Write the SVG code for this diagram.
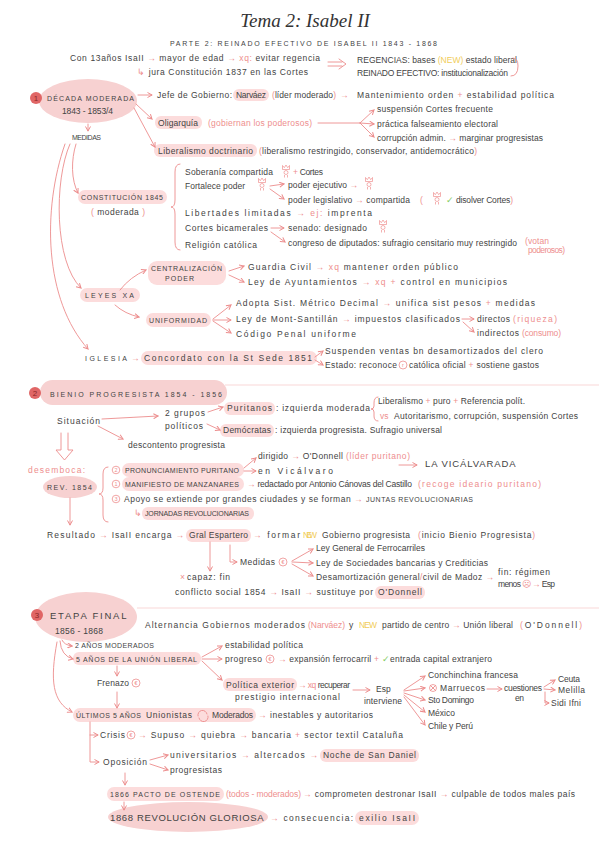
<svg xmlns="http://www.w3.org/2000/svg" width="599" height="848" viewBox="0 0 599 848">
<style>
.t{font-family:"Liberation Sans",Arial,sans-serif;font-size:8.5px;fill:#434343}
.k{font-size:7px;letter-spacing:1px}
.kb{font-size:9.5px;letter-spacing:1.5px}
.p{fill:#ee8e8e}
.y{fill:#f1cd5a}
.g{fill:#86cc62}
.hl{fill:#fcdcdc}
.bub{fill:#f7d1d1}
.num{fill:#e06666}
.nt{font-family:"Liberation Sans",Arial,sans-serif;font-size:8px;fill:#8c2626;text-anchor:middle}
.ci{fill:none;stroke:#ee8e8e;stroke-width:0.8}
.cit{font-family:"Liberation Sans",Arial,sans-serif;font-size:5.5px;fill:#ee8e8e;text-anchor:middle}
.ln{fill:none;stroke:#ec8c8c;stroke-width:0.9;stroke-linecap:round;stroke-linejoin:round}
.ar{marker-end:url(#ah)}
.sep{stroke:#fbe4e4;stroke-width:1.5}
</style>
<defs>
<marker id="ah" viewBox="0 0 6 6" refX="5" refY="3" markerWidth="6" markerHeight="6" markerUnits="userSpaceOnUse" orient="auto"><path d="M0.5 0.5 L5 3 L0.5 5.5" fill="none" stroke="#ec8c8c" stroke-width="1"/></marker>
<g id="crown" fill="none" stroke="#ef8f8f" stroke-width="0.7"><path d="M-3.5 -2.5 L-3.5 -6.5 L-1.7 -4.3 L0 -7 L1.7 -4.3 L3.5 -6.5 L3.5 -2.5 Z"/><circle cx="0" cy="0.5" r="2"/><path d="M-1.5 3 L-1.5 5.5 M1.5 3 L1.5 5.5"/></g>
</defs>
<rect width="599" height="848" fill="#ffffff"/>

<g id="title"><text x="305" y="27" font-family="Liberation Serif, serif" font-style="italic" font-size="19" text-anchor="middle" fill="#333">Tema 2: Isabel II</text></g>
<g id="subtitle"><text class="t k" x="170" y="46" textLength="268" font-size="7.5">PARTE 2: REINADO EFECTIVO DE ISABEL II 1843 - 1868</text></g>

<g id="intro">
<text class="t" x="70" y="61" textLength="250">Con 13años IsaII <tspan class="p">→</tspan> mayor de edad <tspan class="p">→ xq:</tspan> evitar regencia</text>
<text class="t" x="137" y="75" textLength="171"><tspan class="p">↳</tspan> jura Constitución 1837 en las Cortes</text>
</g>
<g id="regencias">
<text class="t" x="357" y="63" textLength="160">REGENCIAS: bases <tspan class="y">(NEW)</tspan> estado liberal</text>
<text class="t" x="357" y="76" textLength="151">REINADO EFECTIVO: institucionalización</text>
</g>

<!-- SECTION 1 -->
<g id="decada-moderada">
<ellipse class="bub" cx="88" cy="101" rx="49" ry="22"/>
<circle class="num" cx="36" cy="98" r="6"/><text class="nt" x="36" y="101">1</text>
<text class="t k" x="47" y="101" textLength="88">DÉCADA MODERADA</text>
<text class="t" x="62" y="114" textLength="51">1843 - 1853/4</text>
</g>
<g id="jefe">
<text class="t" x="157" y="98" textLength="75">Jefe de Gobierno:</text>
<rect class="hl" x="233" y="89" width="36" height="12" rx="6"/>
<text class="t" x="236" y="98" textLength="30">Narváez</text>
<text class="t" x="272" y="98" textLength="64"><tspan class="p">(</tspan>líder moderado<tspan class="p">)</tspan></text>
<text class="t p" x="340" y="98">→</text>
<text class="t" x="357" y="98" textLength="197">Mantenimiento orden <tspan class="p">+</tspan> estabilidad política</text>
</g>
<g id="oligarquia">
<rect class="hl" x="155" y="116" width="47" height="13" rx="6"/>
<text class="t" x="158" y="126" textLength="40">Oligarquía</text>
<text class="t p" x="208" y="126" textLength="104">(gobiernan los poderosos)</text>
<text class="t" x="377" y="112" textLength="116">suspensión Cortes frecuente</text>
<text class="t" x="377" y="127" textLength="121">práctica falseamiento electoral</text>
<text class="t" x="377" y="141" textLength="166">corrupción admin. <tspan class="p">→</tspan> marginar progresistas</text>
</g>
<g id="liberalismo">
<rect class="hl" x="154" y="144" width="103" height="13" rx="6"/>
<text class="t" x="158" y="154" textLength="95">Liberalismo doctrinario</text>
<text class="t" x="259" y="154" textLength="218"><tspan class="p">(</tspan>liberalismo restringido, conservador, antidemocrático<tspan class="p">)</tspan></text>
</g>
<g id="medidas"><text class="t k" x="72" y="140" textLength="30" font-size="6">MEDIDAS</text></g>

<g id="constitucion">
<rect class="hl" x="78" y="190" width="89" height="14" rx="7"/>
<text class="t k" x="81" y="200" textLength="83">CONSTITUCIÓN 1845</text>
<text class="t" x="91" y="215" textLength="54"><tspan class="p">(</tspan> moderada <tspan class="p">)</tspan></text>
<path class="ln" d="M180 164 Q175 164 175 172 L175 200 Q175 207 171 207 Q175 207 175 214 L175 242 Q175 250 180 250"/>
<text class="t" x="185" y="175" textLength="88">Soberanía compartida</text>
<use href="#crown" x="286" y="172"/>
<text class="t" x="293" y="175" textLength="30"><tspan class="p">+</tspan> Cortes</text>
<text class="t" x="185" y="189" textLength="60">Fortalece poder</text>
<use href="#crown" x="262" y="185"/>
<text class="t" x="288" y="188" textLength="70">poder ejecutivo <tspan class="p">→</tspan></text>
<use href="#crown" x="369" y="184"/>
<text class="t" x="288" y="203" textLength="122">poder legislativo <tspan class="p">→</tspan> compartida</text>
<text class="t p" x="420" y="203">(</text>
<use href="#crown" x="437" y="199"/>
<text class="t g" x="446" y="203">✓</text>
<text class="t" x="456" y="203" textLength="57">disolver Cortes<tspan class="p">)</tspan></text>
<text class="t" x="185" y="216" textLength="187">Libertades limitadas <tspan class="p">→ ej:</tspan> imprenta</text>
<text class="t" x="185" y="231" textLength="83">Cortes bicamerales</text>
<text class="t" x="288" y="231" textLength="79">senado: designado</text>
<use href="#crown" x="383" y="227"/>
<text class="t" x="288" y="246" textLength="229" font-size="7.8">congreso de diputados: sufragio censitario muy restringido</text>
<text class="t p" x="525" y="244" font-size="7" textLength="24">(votan</text>
<text class="t p" x="528" y="253" font-size="7" textLength="37">poderosos)</text>
<text class="t" x="185" y="248" textLength="72">Religión católica</text>
</g>

<g id="centralizacion">
<rect class="hl" x="148" y="261" width="78" height="24" rx="9"/>
<text class="t k" x="151" y="271" textLength="72">CENTRALIZACIÓN</text>
<text class="t k" x="165" y="281" textLength="30">PODER</text>
<text class="t" x="248" y="270" textLength="210">Guardia Civil <tspan class="p">→ xq</tspan> mantener orden público</text>
<text class="t" x="248" y="285" textLength="259">Ley de Ayuntamientos <tspan class="p">→ xq +</tspan> control en municipios</text>
</g>
<g id="leyes-xa">
<rect class="hl" x="80" y="288" width="60" height="14" rx="7"/>
<text class="t k" x="85" y="298" textLength="50">LEYES XA</text>
</g>
<g id="uniformidad">
<rect class="hl" x="146" y="313" width="65" height="14" rx="7"/>
<text class="t k" x="149" y="323" textLength="59">UNIFORMIDAD</text>
<text class="t" x="236" y="306" textLength="299">Adopta Sist. Métrico Decimal <tspan class="p">→</tspan> unifica sist pesos <tspan class="p">+</tspan> medidas</text>
<text class="t" x="236" y="322" textLength="224">Ley de Mont-Santillán <tspan class="p">→</tspan> impuestos clasificados</text>
<text class="t" x="477" y="322" textLength="33">directos</text>
<text class="t p" x="513" y="322" textLength="44">(riqueza)</text>
<text class="t" x="477" y="336" textLength="42">indirectos</text>
<text class="t p" x="522" y="336" textLength="39">(consumo)</text>
<text class="t" x="236" y="337" textLength="120">Código Penal uniforme</text>
</g>
<g id="iglesia">
<text class="t k" x="85" y="361" textLength="43">IGLESIA</text>
<text class="t p" x="131" y="361">→</text>
<rect class="hl" x="141" y="351" width="176" height="14" rx="7"/>
<text class="t" x="144" y="361" textLength="168">Concordato con la St Sede 1851</text>
<text class="t" x="325" y="354" textLength="218">Suspenden ventas bn desamortizados del clero</text>
<text class="t" x="325" y="368" textLength="72">Estado: reconoce</text>
<circle class="ci" cx="403" cy="365" r="4"/><text class="cit" x="403" y="367">r</text>
<text class="t" x="409" y="368" textLength="130">católica oficial <tspan class="p">+</tspan> sostiene gastos</text>
</g>

<!-- SECTION 2 -->
<g id="bienio">
<rect class="bub" x="40" y="380" width="187" height="25" rx="12.5"/>
<circle class="num" cx="35" cy="393" r="6"/><text class="nt" x="35" y="396">2</text>
<text class="t k" x="50" y="397" textLength="173" font-size="8">BIENIO PROGRESISTA 1854 - 1856</text>
</g>
<g id="situacion">
<text class="t" x="57" y="424" textLength="43">Situación</text>
<text class="t" x="165" y="416" textLength="40">2 grupos</text>
<text class="t" x="165" y="429" textLength="38">políticos</text>
<text class="t" x="128" y="448" textLength="97">descontento progresista</text>
</g>
<g id="puritanos">
<rect class="hl" x="224" y="402" width="51" height="13" rx="6"/>
<text class="t" x="227" y="411" textLength="45">Puritanos</text>
<text class="t" x="276" y="411" textLength="94">: izquierda moderada</text>
<path class="ln" d="M378 397 Q374 397 374 403 L374 406 Q374 409 371 409 Q374 409 374 412 L374 416 Q374 421 378 421"/>
<text class="t" x="378" y="404" textLength="147">Liberalismo <tspan class="p">+</tspan> puro <tspan class="p">+</tspan> Referencia polít.</text>
<text class="t p" x="380" y="419">vs</text>
<text class="t" x="394" y="419" textLength="184">Autoritarismo, corrupción, suspensión Cortes</text>
</g>
<g id="democratas">
<rect class="hl" x="220" y="424" width="54" height="13" rx="6"/>
<text class="t" x="223" y="433" textLength="48">Demócratas</text>
<text class="t" x="275" y="433" textLength="167">: izquierda progresista. Sufragio universal</text>
</g>
<g id="rev-1854">
<text class="t p" x="28" y="473" textLength="57">desemboca:</text>
<ellipse class="bub" cx="70" cy="487" rx="27" ry="11"/>
<text class="t k" x="47" y="490" textLength="46">REV. 1854</text>
<path class="ln" d="M108 467 Q103 467 103 474 L103 488 Q103 494 99 494 Q103 494 103 500 L103 515 Q103 522 108 522"/>
</g>
<g id="pronunciamiento">
<circle class="ci" cx="116" cy="470" r="3.8"/><text class="cit" x="116" y="472">2</text>
<rect class="hl" x="122" y="463" width="122" height="14" rx="7"/>
<text class="t k" x="125" y="473" textLength="115">PRONUNCIAMIENTO PURITANO</text>
<text class="t" x="258" y="459" textLength="85">dirigido <tspan class="p">→</tspan> O'Donnell</text>
<text class="t p" x="346" y="459" textLength="64">(líder puritano)</text>
<text class="t" x="258" y="474" textLength="75">en Vicálvaro</text>
<text class="t kb" x="425" y="467" textLength="92">LA VICÁLVARADA</text>
</g>
<g id="manifiesto">
<circle class="ci" cx="116" cy="484" r="3.8"/><text class="cit" x="116" y="486">1</text>
<rect class="hl" x="122" y="477" width="122" height="14" rx="7"/>
<text class="t k" x="125" y="487" textLength="115">MANIFIESTO DE MANZANARES</text>
<text class="t" x="247" y="487" textLength="165"><tspan class="p">→</tspan> redactado por Antonio Cánovas del Castillo</text>
<text class="t p" x="418" y="487" textLength="123">(recoge ideario puritano)</text>
</g>
<g id="apoyo">
<circle class="ci" cx="116" cy="499" r="3.8"/><text class="cit" x="116" y="501">3</text>
<text class="t" x="124" y="502" textLength="349">Apoyo se extiende por grandes ciudades y se forman <tspan class="p">→</tspan> <tspan font-size="7">JUNTAS REVOLUCIONARIAS</tspan></text>
<text class="t p" x="134" y="516">↳</text>
<rect class="hl" x="142" y="507" width="112" height="13" rx="6"/>
<text class="t k" x="145" y="516" textLength="105">JORNADAS REVOLUCIONARIAS</text>
</g>
<g id="resultado">
<text class="t" x="47" y="538" textLength="48">Resultado</text>
<text class="t" x="99" y="538" textLength="85"><tspan class="p">→</tspan> IsaII encarga <tspan class="p">→</tspan></text>
<rect class="hl" x="186" y="529" width="65" height="13" rx="6"/>
<text class="t" x="189" y="538" textLength="59">Gral Espartero</text>
<text class="t" x="253" y="538" textLength="47"><tspan class="p">→</tspan> formar</text>
<text class="t y" x="303" y="538" font-size="6.5" textLength="14">NEW</text>
<text class="t" x="322" y="538" textLength="88">Gobierno progresista</text>
<text class="t" x="418" y="538" textLength="117"><tspan class="p">(</tspan>inicio Bienio Progresista<tspan class="p">)</tspan></text>
</g>
<g id="medidas-bienio">
<text class="t" x="240" y="565" textLength="35">Medidas</text>
<circle class="ci" cx="283" cy="562" r="4"/><text class="cit" x="283" y="564">€</text>
<text class="t" x="316" y="551" textLength="109">Ley General de Ferrocarriles</text>
<text class="t" x="316" y="566" textLength="172">Ley de Sociedades bancarias y Crediticias</text>
<text class="t" x="316" y="580" textLength="178">Desamortización general<tspan class="p">/</tspan>civil de Madoz <tspan class="p">→</tspan></text>
<text class="t" x="498" y="575" textLength="52">fin: régimen</text>
<text class="t" x="498" y="587" textLength="57">menos <tspan class="p">☹ →</tspan> Esp</text>
</g>
<g id="fin-bienio">
<text class="t p" x="180" y="580">×</text>
<text class="t" x="187" y="580" textLength="43">capaz: fin</text>
<text class="t" x="175" y="595" textLength="198">conflicto social 1854 <tspan class="p">→</tspan> IsaII <tspan class="p">→</tspan> sustituye por</text>
<rect class="hl" x="375" y="586" width="50" height="13" rx="6"/>
<text class="t" x="378" y="595" textLength="44">O'Donnell</text>
</g>

<!-- SECTION 3 -->
<g id="etapa-final">
<ellipse class="bub" cx="86" cy="617" rx="51" ry="25"/>
<circle class="num" cx="37" cy="615" r="6"/><text class="nt" x="37" y="618">3</text>
<text class="t kb" x="50" y="619" textLength="78" font-size="10">ETAPA FINAL</text>
<text class="t" x="55" y="634" textLength="48">1856 - 1868</text>
</g>
<g id="alternancia">
<text class="t" x="145" y="628" textLength="160">Alternancia Gobiernos moderados</text>
<text class="t p" x="308" y="628" textLength="37">(Narváez)</text>
<text class="t" x="349" y="628">y</text>
<text class="t y" x="359" y="628" font-size="6.5" textLength="18">NEW</text>
<text class="t" x="382" y="628" textLength="131">partido de centro <tspan class="p">→</tspan> Unión liberal</text>
<text class="t" x="520" y="628" textLength="62"><tspan class="p">(</tspan>O'Donnell<tspan class="p">)</tspan></text>
</g>
<g id="dos-anos"><text class="t k" x="75" y="648" textLength="80" font-size="6">2 AÑOS MODERADOS</text></g>
<g id="union-liberal">
<rect class="hl" x="73" y="652" width="128" height="13" rx="6"/>
<text class="t k" x="76" y="662" textLength="122" font-size="6.5">5 AÑOS DE LA UNIÓN LIBERAL</text>
<text class="t" x="225" y="648" textLength="78">estabilidad política</text>
<text class="t" x="225" y="662" textLength="37">progreso</text>
<circle class="ci" cx="270" cy="659" r="4"/><text class="cit" x="270" y="661">€</text>
<text class="t" x="278" y="662" textLength="214"><tspan class="p">→</tspan> expansión ferrocarril <tspan class="p">+</tspan> <tspan class="g">✓</tspan>entrada capital extranjero</text>
<rect class="hl" x="223" y="678" width="74" height="13" rx="6"/>
<text class="t" x="226" y="688" textLength="68">Política exterior</text>
<text class="t" x="298" y="688" textLength="52"><tspan class="p">→ xq</tspan> recuperar</text>
<text class="t" x="235" y="700" textLength="105">prestigio internacional</text>
<text class="t" x="376" y="692">Esp</text>
<text class="t" x="364" y="704" textLength="38">interviene</text>
</g>
<g id="intervenciones">
<text class="t" x="428" y="678" textLength="90">Conchinchina francesa</text>
<circle class="ci" cx="433" cy="688" r="3.5"/><path class="ln" d="M430.5 685.5 L435.5 690.5 M435.5 685.5 L430.5 690.5" stroke-width="0.6"/>
<text class="t" x="440" y="691" textLength="45">Marruecos</text>
<text class="t" x="504" y="691" textLength="38">cuestiones</text>
<text class="t" x="515" y="701" textLength="9">en</text>
<text class="t" x="558" y="682" textLength="22">Ceuta</text>
<text class="t" x="558" y="693" textLength="27">Melilla</text>
<text class="t" x="551" y="706" textLength="30">Sidi Ifni</text>
<text class="t" x="428" y="703" textLength="46">Sto Domingo</text>
<text class="t" x="428" y="716" textLength="27">México</text>
<text class="t" x="428" y="729" textLength="45">Chile y Perú</text>
</g>
<g id="frenazo">
<text class="t" x="97" y="686" textLength="32">Frenazo</text>
<circle class="ci" cx="136" cy="683" r="4"/><text class="cit" x="136" y="685">€</text>
</g>
<g id="ultimos">
<rect class="hl" x="73" y="708" width="183" height="14" rx="7"/>
<text class="t k" x="76" y="718" textLength="66" font-size="6.5">ÚLTIMOS 5 AÑOS</text>
<text class="t" x="146" y="718" textLength="46">Unionistas</text>
<path class="ln" d="M198 716 A4.5 4.5 0 0 1 207 714 M208 716 A4.5 4.5 0 0 1 199 718" stroke-width="0.8"/>
<text class="t" x="212" y="718" textLength="41">Moderados</text>
<text class="t" x="258" y="718" textLength="115"><tspan class="p">→</tspan> inestables y autoritarios</text>
</g>
<g id="crisis">
<text class="t" x="100" y="738" textLength="25">Crisis</text>
<circle class="ci" cx="131" cy="735" r="4"/><text class="cit" x="131" y="737">€</text>
<text class="t" x="138" y="738" textLength="265"><tspan class="p">→</tspan> Supuso <tspan class="p">→</tspan> quiebra <tspan class="p">→</tspan> bancaria <tspan class="p">+</tspan> sector textil Cataluña</text>
</g>
<g id="oposicion">
<text class="t" x="103" y="765" textLength="44">Oposición</text>
<text class="t" x="170" y="758" textLength="148">universitarios <tspan class="p">→</tspan> altercados <tspan class="p">→</tspan></text>
<rect class="hl" x="320" y="749" width="99" height="13" rx="6"/>
<text class="t" x="323" y="758" textLength="93">Noche de San Daniel</text>
<text class="t" x="170" y="773" textLength="52">progresistas</text>
</g>
<g id="pacto-ostende">
<rect class="hl" x="107" y="787" width="117" height="14" rx="7"/>
<text class="t k" x="110" y="797" textLength="111" font-size="7.5">1866 PACTO DE OSTENDE</text>
<text class="t p" x="226" y="797" textLength="75" font-size="7.5">(todos - moderados)</text>
<text class="t" x="303" y="797" textLength="272"><tspan class="p">→</tspan> comprometen destronar IsaII <tspan class="p">→</tspan> culpable de todos males país</text>
</g>
<g id="revolucion-gloriosa">
<ellipse class="bub" cx="188" cy="817" rx="80" ry="15"/>
<text class="t kb" x="110" y="821" textLength="155">1868 REVOLUCIÓN GLORIOSA</text>
<text class="t" x="270" y="821" textLength="83"><tspan class="p">→</tspan> consecuencia:</text>
<rect class="hl" x="355" y="811" width="64" height="14" rx="7"/>
<text class="t" x="359" y="821" textLength="56">exilio IsaII</text>
</g>

<g id="connectors">
<path class="sep" d="M225 385 L599 385"/>
<path class="sep" d="M137 608 L599 608"/>
<path class="ln" d="M328 62 H342 M328 66 H342 M339 59 L346 64 L339 69" stroke-width="1.2"/>
<path class="ln" d="M513 58 Q518 58 518 66 Q518 76 511 76"/>
<path class="ln ar" d="M138 95 L152 95"/>
<path class="ln ar" d="M136 104 L152 119"/>
<path class="ln ar" d="M134 108 L155 147"/>
<path class="ln ar" d="M88 124 L88 131"/>
<path class="ln" d="M318 123 L360 123"/>
<path class="ln ar" d="M360 123 L374 110"/>
<path class="ln ar" d="M360 123 L374 124"/>
<path class="ln ar" d="M360 123 L374 137"/>
<path class="ln ar" d="M76 144 C71 160 71 180 78 193"/>
<path class="ln ar" d="M70 144 C54 180 54 262 81 288"/>
<path class="ln ar" d="M65 144 C42 210 44 300 88 349"/>
<path class="ln ar" d="M270 186 L284 184"/>
<path class="ln ar" d="M270 189 L284 199"/>
<path class="ln ar" d="M271 228 L284 228"/>
<path class="ln ar" d="M271 232 L285 242"/>
<path class="ln ar" d="M120 290 Q130 277 146 270"/>
<path class="ln ar" d="M229 271 L244 266"/>
<path class="ln ar" d="M229 275 L244 282"/>
<path class="ln ar" d="M115 305 Q125 314 139 317"/>
<path class="ln ar" d="M213 319 L231 305"/>
<path class="ln ar" d="M213 320 L231 320"/>
<path class="ln ar" d="M213 321 L231 333"/>
<path class="ln ar" d="M462 319 L474 319"/>
<path class="ln ar" d="M463 322 L474 332"/>
<path class="ln ar" d="M315 357 L323 351"/>
<path class="ln ar" d="M315 360 L323 365"/>
<path class="ln ar" d="M102 419 L158 416"/>
<path class="ln ar" d="M208 412 L223 407"/>
<path class="ln ar" d="M207 424 L220 430"/>
<path class="ln ar" d="M98 426 L123 439"/>
<path class="ln" d="M61 433 L61 450 L56 450 L64.5 460 L73 450 L68 450 L68 433"/>
<path class="ln ar" d="M244 468 L256 458"/>
<path class="ln ar" d="M244 471 L256 471"/>
<path class="ln ar" d="M399 465 L417 465" stroke-width="1.1"/>
<path class="ln ar" d="M70 498 L70 525"/>
<path class="ln ar" d="M210 542 L210 571"/>
<path class="ln ar" d="M230 545 L230 562 L237 562"/>
<path class="ln ar" d="M292 561 L313 549"/>
<path class="ln ar" d="M292 562 L313 563"/>
<path class="ln ar" d="M292 564 L313 576"/>
<path class="ln ar" d="M62 640 Q64 645 72 646"/>
<path class="ln ar" d="M60 641 Q61 656 73 659"/>
<path class="ln ar" d="M57 642 C50 680 52 702 72 712"/>
<path class="ln ar" d="M202 657 L222 646"/>
<path class="ln ar" d="M202 659 L222 659"/>
<path class="ln ar" d="M202 661 L222 680"/>
<path class="ln ar" d="M353 690 L370 690"/>
<path class="ln ar" d="M404 690 L425 676"/>
<path class="ln ar" d="M404 691 L425 688"/>
<path class="ln ar" d="M404 693 L425 700"/>
<path class="ln ar" d="M404 695 L425 712"/>
<path class="ln ar" d="M404 697 L425 725"/>
<path class="ln ar" d="M487 689 L502 689"/>
<path class="ln ar" d="M544 687 L555 680"/>
<path class="ln ar" d="M544 689 L555 690"/>
<path class="ln ar" d="M545 692 L545 703 L549 703"/>
<path class="ln ar" d="M117 666 L117 676"/>
<path class="ln ar" d="M117 692 L117 708"/>
<path class="ln ar" d="M90 722 L90 762 L99 762"/>
<path class="ln ar" d="M90 735 L98 735"/>
<path class="ln ar" d="M150 760 L168 755"/>
<path class="ln ar" d="M150 764 L168 770"/>
<path class="ln ar" d="M125 773 L125 785"/>
<path class="ln ar" d="M124 802 L124 810"/>
</g>
</svg>
